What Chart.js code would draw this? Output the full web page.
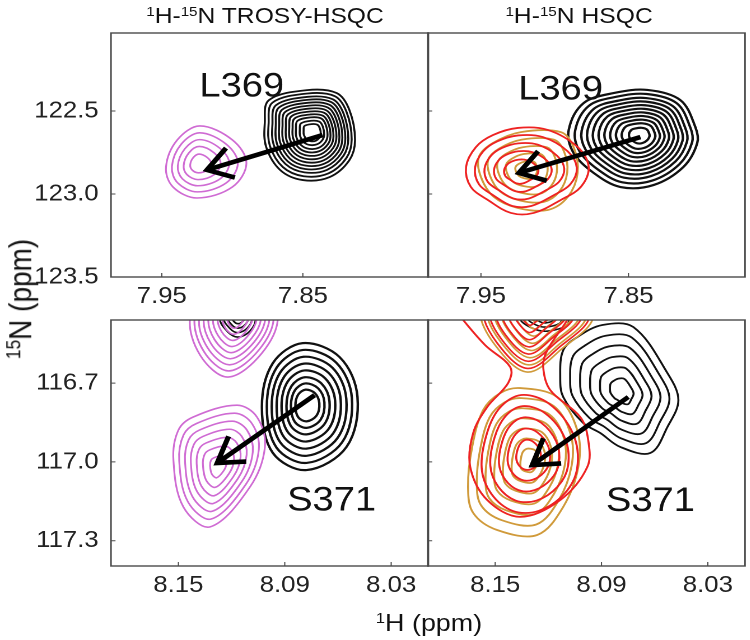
<!DOCTYPE html>
<html><head><meta charset="utf-8">
<script src="https://cdn.jsdelivr.net/npm/chart.js@4.4.1/dist/chart.umd.min.js"></script>
<style>
html,body{margin:0;padding:0;background:#fff;width:750px;height:640px;overflow:hidden;}
#wrap{position:absolute;left:0;top:0;width:670px;height:640px;transform:scaleX(1.12);transform-origin:0 0;font-family:"Liberation Sans",Arial,sans-serif;color:#111;}
canvas{position:absolute;left:0;top:0;}
.t{position:absolute;white-space:nowrap;font-size:22px;line-height:26px;}
.t sup{font-size:0.62em;vertical-align:0.55em;line-height:0;}
</style></head><body>
<div id="wrap">
<canvas id="cTL" width="670" height="640"></canvas>
<canvas id="cTR" width="670" height="640"></canvas>
<canvas id="cBL" width="670" height="640"></canvas>
<canvas id="cBR" width="670" height="640"></canvas>
<div class="t" style="left:86.6px;width:300px;text-align:center;top:3px;"><sup>1</sup>H-<sup>15</sup>N TROSY-HSQC</div>
<div class="t" style="left:367px;width:300px;text-align:center;top:3px;"><sup>1</sup>H-<sup>15</sup>N HSQC</div>
<div class="t" style="left:18.5px;top:299px;font-size:28px;transform:translate(-50%,-50%) rotate(-90deg);"><sup>15</sup>N (ppm)</div>
<div class="t" style="left:383px;top:623px;font-size:24px;transform:translate(-50%,-50%);"><sup>1</sup>H (ppm)</div>
</div>
<script>
// ---- axes ----
const xTicksTop = [7.95, 7.85];
const yTicksTop = [122.5, 123.0, 123.5];
const xTicksBottom = [8.15, 8.09, 8.03];
const yTicksBottom = [116.7, 117.0, 117.3];
const rangeTopLeftH = [7.761, 7.986];
const rangeTopRightH = [7.771, 7.986];
const rangeTopN = [122.03, 123.5];
const rangeBottomH = [8.009, 8.188];
const rangeBottomN = [116.46, 117.396];

// ---- residue labels and shift arrows (ppm) ----
const residueLabels = ['L369', 'S371'];
const labelPosTL = [7.8933, 122.355];
const labelPosTR = [7.896, 122.373];
const labelPosBL = [8.0636, 117.149];
const labelPosBR = [8.0624, 117.152];
const arrowTL = {from: [7.836, 122.645], to: [7.918, 122.855]};
const arrowTR = {from: [7.8419, 122.657], to: [7.9243, 122.873]};
const arrowBL = {from: [8.0732, 116.746], to: [8.1281, 117.004]};
const arrowBR = {from: [8.0749, 116.753], to: [8.1291, 117.012]};

// ---- peaks: centre, outer contour outline (ppm), contour levels (fraction of outline) ----
const l369TrosyFree = {center: [7.843, 122.627],
  outline: [[7.874,122.434],[7.847,122.374],[7.826,122.392],[7.817,122.494],[7.813,122.675],[7.817,122.796],[7.831,122.898],[7.850,122.916],[7.866,122.856],[7.876,122.717],[7.877,122.573]],
  levels: [1,.92,.84,.77,.70,.63,.56,.49,.42,.35,.27,.19]};
const l369TrosyBound = {center: [7.9238, 122.819],
  outline: [[7.923,122.590],[7.900,122.674],[7.890,122.813],[7.900,122.958],[7.925,123.024],[7.942,122.958],[7.947,122.837],[7.939,122.674]],
  levels: [1,.82,.64,.46,.26]};

const l369HsqcFree = {center: [7.8419, 122.6446],
  outline: [[7.8905,122.614],[7.8804,122.452],[7.8601,122.392],[7.8372,122.373],[7.8149,122.434],[7.8047,122.596],[7.8034,122.693],[7.8128,122.837],[7.8331,122.946],[7.8554,122.958],[7.8736,122.873],[7.8872,122.753]],
  levels: [1,.91,.82,.74,.66,.58,.5,.42,.34,.26,.16]};
const l369HsqcRed = {center: [7.9243, 122.867],
  outline: [[7.9601,122.837],[7.9534,122.717],[7.9419,122.645],[7.9250,122.602],[7.9047,122.614],[7.8845,122.717],[7.8770,122.837],[7.8824,122.958],[7.8959,123.036],[7.9142,123.114],[7.9297,123.114],[7.9453,123.036],[7.9568,122.958]],
  levels: [1,.83,.65,.47,.28]};
const l369HsqcOrange = {center: [7.9196, 122.855],
  outline: [[7.9514,122.777],[7.9419,122.693],[7.9230,122.627],[7.8959,122.627],[7.8872,122.717],[7.8845,122.873],[7.8912,123.018],[7.9047,123.096],[7.9250,123.084],[7.9412,123.018],[7.9500,122.898]],
  levels: [1,.8,.6,.42,.22]};

const s371TrosyFree = {center: [8.0777, 116.784],
  outline: [[8.0799,116.548],[8.0591,116.601],[8.0490,116.753],[8.0552,116.943],[8.0777,117.031],[8.0967,116.966],[8.1029,116.791],[8.0967,116.624]],
  levels: [1,.89,.78,.67,.56,.45,.35,.25]};
const s371TrosyBound = {center: [8.1276, 117.019],
  outline: [[8.1416,116.829],[8.1169,116.784],[8.1057,116.829],[8.1012,116.943],[8.1096,117.095],[8.1321,117.247],[8.1472,117.171],[8.1528,116.993],[8.1500,116.879]],
  levels: [1,.87,.74,.61,.48,.34,.18]};
const neighbourTrosyBound = {center: [8.1175, 116.445],
  outline: [[8.1433,116.445],[8.1377,116.594],[8.1220,116.677],[8.1029,116.586],[8.0939,116.445],[8.1040,116.308],[8.1175,116.270],[8.1309,116.308]],
  levels: [1,.9,.8,.7,.6,.5,.4,.3,.2]};
const neighbourTrosyFree = {center: [8.1163, 116.44],
  outline: [[8.1264,116.453],[8.1220,116.506],[8.1163,116.525],[8.1096,116.502],[8.1068,116.453],[8.1163,116.384]],
  levels: [1,.8,.6,.4]};

const s371HsqcFree = {center: [8.0782, 116.734],
  outline: [[8.0895,116.479],[8.0720,116.487],[8.0528,116.662],[8.0466,116.765],[8.0528,116.867],[8.0624,116.966],[8.0794,116.943],[8.0907,116.890],[8.1003,116.852],[8.1116,116.753],[8.1133,116.677],[8.1116,116.575],[8.1037,116.525]],
  levels: [1,.84,.68,.52,.36,.2]};
const s371HsqcOrange = {center: [8.1302, 116.993],
  outline: [[8.1653,117.095],[8.1630,116.943],[8.1568,116.803],[8.1472,116.738],[8.1359,116.719],[8.1150,116.753],[8.1037,116.879],[8.1031,117.019],[8.1116,117.171],[8.1263,117.278],[8.1489,117.259],[8.1624,117.194]],
  levels: [1,.86,.72,.58,.44,.3,.16]};
const s371HsqcRed = {center: [8.1314, 116.974],
  outline: [[8.1619,117.031],[8.1585,116.879],[8.1500,116.765],[8.1359,116.708],[8.1178,116.746],[8.1020,116.879],[8.0992,117.031],[8.1076,117.145],[8.1246,117.221],[8.1415,117.221],[8.1556,117.145]],
  levels: [.86,.7,.54,.38,.22]};
const s371HsqcRedEnvelope = [[8.1750,116.40],[8.1681,116.460],[8.1556,116.556],[8.1415,116.639],[8.1427,116.700],[8.1545,116.791],[8.1624,116.890],[8.1641,117.019],[8.1545,117.145],[8.1359,117.209],[8.1133,117.145],[8.0980,117.019],[8.0975,116.917],[8.1020,116.829],[8.1189,116.727],[8.1229,116.639],[8.1206,116.575],[8.1093,116.460],[8.1050,116.40]];
const neighbourHsqcOrange = {center: [8.1263, 116.430],
  outline: [[8.1585,116.422],[8.1500,116.556],[8.1319,116.658],[8.1133,116.575],[8.0946,116.441],[8.1133,116.270],[8.1302,116.251],[8.1472,116.289]],
  levels: [1,.88,.76,.64,.52,.4,.28,.16]};
const neighbourHsqcRed = {center: [8.1300, 116.430],
  outline: [[8.1585,116.422],[8.1500,116.556],[8.1319,116.658],[8.1133,116.575],[8.0946,116.441],[8.1133,116.270],[8.1302,116.251],[8.1472,116.289]],
  levels: [.94,.82,.70,.58,.46,.34,.22]};
const neighbourHsqcFree = {center: [8.1220, 116.45],
  outline: [[8.1359,116.453],[8.1291,116.491],[8.1201,116.502],[8.1088,116.472],[8.1133,116.403],[8.1274,116.396]],
  levels: [1,.7,.4]};

// ---- colours ----
const BLACK = '#111111', MAGENTA = '#CF6BD3', RED = '#EE2222', ORANGE = '#D09A3A';
const S = 1.12, W = 670, H = 640;

// closed ring: [last, p0 .. last, p0, p1]; the first and last segments are hidden,
// so every visible segment gets smooth neighbours on both sides
function ring(peak, f) {
  const [cx, cy] = peak.center;
  const pts = peak.outline.map(([x, y]) => ({x: cx + f * (x - cx), y: cy + f * (y - cy)}));
  const n = pts.length;
  return [{...pts[n - 1]}, ...pts, {...pts[0]}, {...pts[1]}];
}
function contours(peak, color, width) {
  return peak.levels.map(f => {
    const data = ring(peak, f), last = data.length - 1;
    return {data, borderColor: color, borderWidth: width, tension: 0.35, pointRadius: 0,
      showLine: true, fill: false, clip: 0,
      segment: {borderColor: c => (c.p0DataIndex === 0 || c.p1DataIndex === last) ? 'rgba(0,0,0,0)' : color}};
  });
}
function openLine(pts, color, width) {
  return {data: pts.map(([x, y]) => ({x, y})), borderColor: color, borderWidth: width,
    tension: 0.35, pointRadius: 0, showLine: true, fill: false, clip: 0};
}

const frame = {id: 'frame', afterDraw(chart) {
  const {ctx, chartArea: a} = chart, xs = chart.scales.x, ys = chart.scales.y;
  ctx.save();
  ctx.strokeStyle = '#4a4a4a'; ctx.lineWidth = 1.4;
  ctx.strokeRect(a.left, a.top, a.right - a.left, a.bottom - a.top);
  ctx.lineWidth = 1;
  ctx.beginPath();
  xs.ticks.forEach(t => { const p = xs.getPixelForValue(t.value); ctx.moveTo(p, a.bottom); ctx.lineTo(p, a.bottom - 4); });
  ys.ticks.forEach(t => { const p = ys.getPixelForValue(t.value); ctx.moveTo(a.left, p); ctx.lineTo(a.left + 4, p); });
  ctx.stroke();
  ctx.restore();
}};

function annot(arrow, label, pos) {
  return {id: 'annot', afterDatasetsDraw(chart) {
    const {ctx} = chart, xs = chart.scales.x, ys = chart.scales.y;
    const x0 = xs.getPixelForValue(arrow.from[0]), y0 = ys.getPixelForValue(arrow.from[1]);
    const x1 = xs.getPixelForValue(arrow.to[0]), y1 = ys.getPixelForValue(arrow.to[1]);
    ctx.save();
    ctx.strokeStyle = '#000'; ctx.lineWidth = 4.6; ctx.lineCap = 'butt'; ctx.lineJoin = 'miter';
    ctx.beginPath(); ctx.moveTo(x0, y0); ctx.lineTo(x1, y1); ctx.stroke();
    const ang = Math.atan2(y0 - y1, (x0 - x1) * S), L = 29, sp = 0.56;
    ctx.beginPath();
    ctx.moveTo(x1 + L * Math.cos(ang - sp) / S, y1 + L * Math.sin(ang - sp));
    ctx.lineTo(x1, y1);
    ctx.lineTo(x1 + L * Math.cos(ang + sp) / S, y1 + L * Math.sin(ang + sp));
    ctx.stroke();
    ctx.font = '34px "Liberation Sans", Arial, sans-serif';
    ctx.fillStyle = '#111'; ctx.textAlign = 'center'; ctx.textBaseline = 'middle';
    ctx.fillText(label, xs.getPixelForValue(pos[0]), ys.getPixelForValue(pos[1]));
    ctx.restore();
  }};
}

function panel(id, area, xRange, yRange, xTicks, yTicks, xDec, yDec, showY, datasets, extra) {
  const tickFont = {family: '"Liberation Sans", Arial, sans-serif', size: 23};
  const yW = showY ? 80 : 0, xH = 50;
  new Chart(document.getElementById(id), {
    type: 'scatter',
    data: {datasets},
    options: {
      responsive: false, animation: false, devicePixelRatio: 2, events: [],
      layout: {padding: {left: area[0] - yW, top: area[1], right: W - area[2], bottom: H - area[3] - xH}},
      plugins: {legend: {display: false}, tooltip: {enabled: false}},
      elements: {point: {radius: 0}, line: {capBezierPoints: false}},
      scales: {
        x: {type: 'linear', reverse: true, min: xRange[0], max: xRange[1],
          grid: {display: false}, border: {display: false},
          afterBuildTicks: s => { s.ticks = xTicks.map(v => ({value: v})); },
          afterFit: s => { s.height = xH; },
          ticks: {autoSkip: false, maxRotation: 0, padding: -2, color: '#222', font: tickFont,
            callback: v => Number(v).toFixed(xDec)}},
        y: {type: 'linear', reverse: true, min: yRange[0], max: yRange[1],
          grid: {display: false}, border: {display: false},
          afterBuildTicks: s => { s.ticks = yTicks.map(v => ({value: v})); },
          afterFit: s => { s.width = yW; },
          ticks: {display: showY, autoSkip: false, padding: 3, color: '#222', font: tickFont,
            callback: v => Number(v).toFixed(yDec)}}
      }
    },
    plugins: [frame, extra]
  });
}

panel('cTL', [99.1, 33, 382.5, 277], rangeTopLeftH, rangeTopN, xTicksTop, yTicksTop, 2, 1, true,
  [...contours(l369TrosyBound, MAGENTA, 1.6), ...contours(l369TrosyFree, BLACK, 1.8)],
  annot(arrowTL, residueLabels[0], labelPosTL));

panel('cTR', [382.0, 33, 665.2, 277], rangeTopRightH, rangeTopN, xTicksTop, yTicksTop, 2, 1, false,
  [...contours(l369HsqcRed, RED, 1.8), ...contours(l369HsqcOrange, ORANGE, 1.8), ...contours(l369HsqcFree, BLACK, 2.2)],
  annot(arrowTR, residueLabels[0], labelPosTR));

panel('cBL', [99.1, 320, 382.5, 566], rangeBottomH, rangeBottomN, xTicksBottom, yTicksBottom, 2, 1, true,
  [...contours(neighbourTrosyBound, MAGENTA, 1.6), ...contours(neighbourTrosyFree, BLACK, 1.6),
   ...contours(s371TrosyBound, MAGENTA, 1.6), ...contours(s371TrosyFree, BLACK, 2.2)],
  annot(arrowBL, residueLabels[1], labelPosBL));

panel('cBR', [382.0, 320, 665.2, 566], rangeBottomH, rangeBottomN, xTicksBottom, yTicksBottom, 2, 1, false,
  [openLine(s371HsqcRedEnvelope, RED, 1.8),
   ...contours(neighbourHsqcRed, RED, 1.6), ...contours(neighbourHsqcOrange, ORANGE, 1.6), ...contours(neighbourHsqcFree, BLACK, 1.6),
   ...contours(s371HsqcRed, RED, 1.8), ...contours(s371HsqcOrange, ORANGE, 1.8), ...contours(s371HsqcFree, BLACK, 1.8)],
  annot(arrowBR, residueLabels[1], labelPosBR));
</script>
</body></html>
